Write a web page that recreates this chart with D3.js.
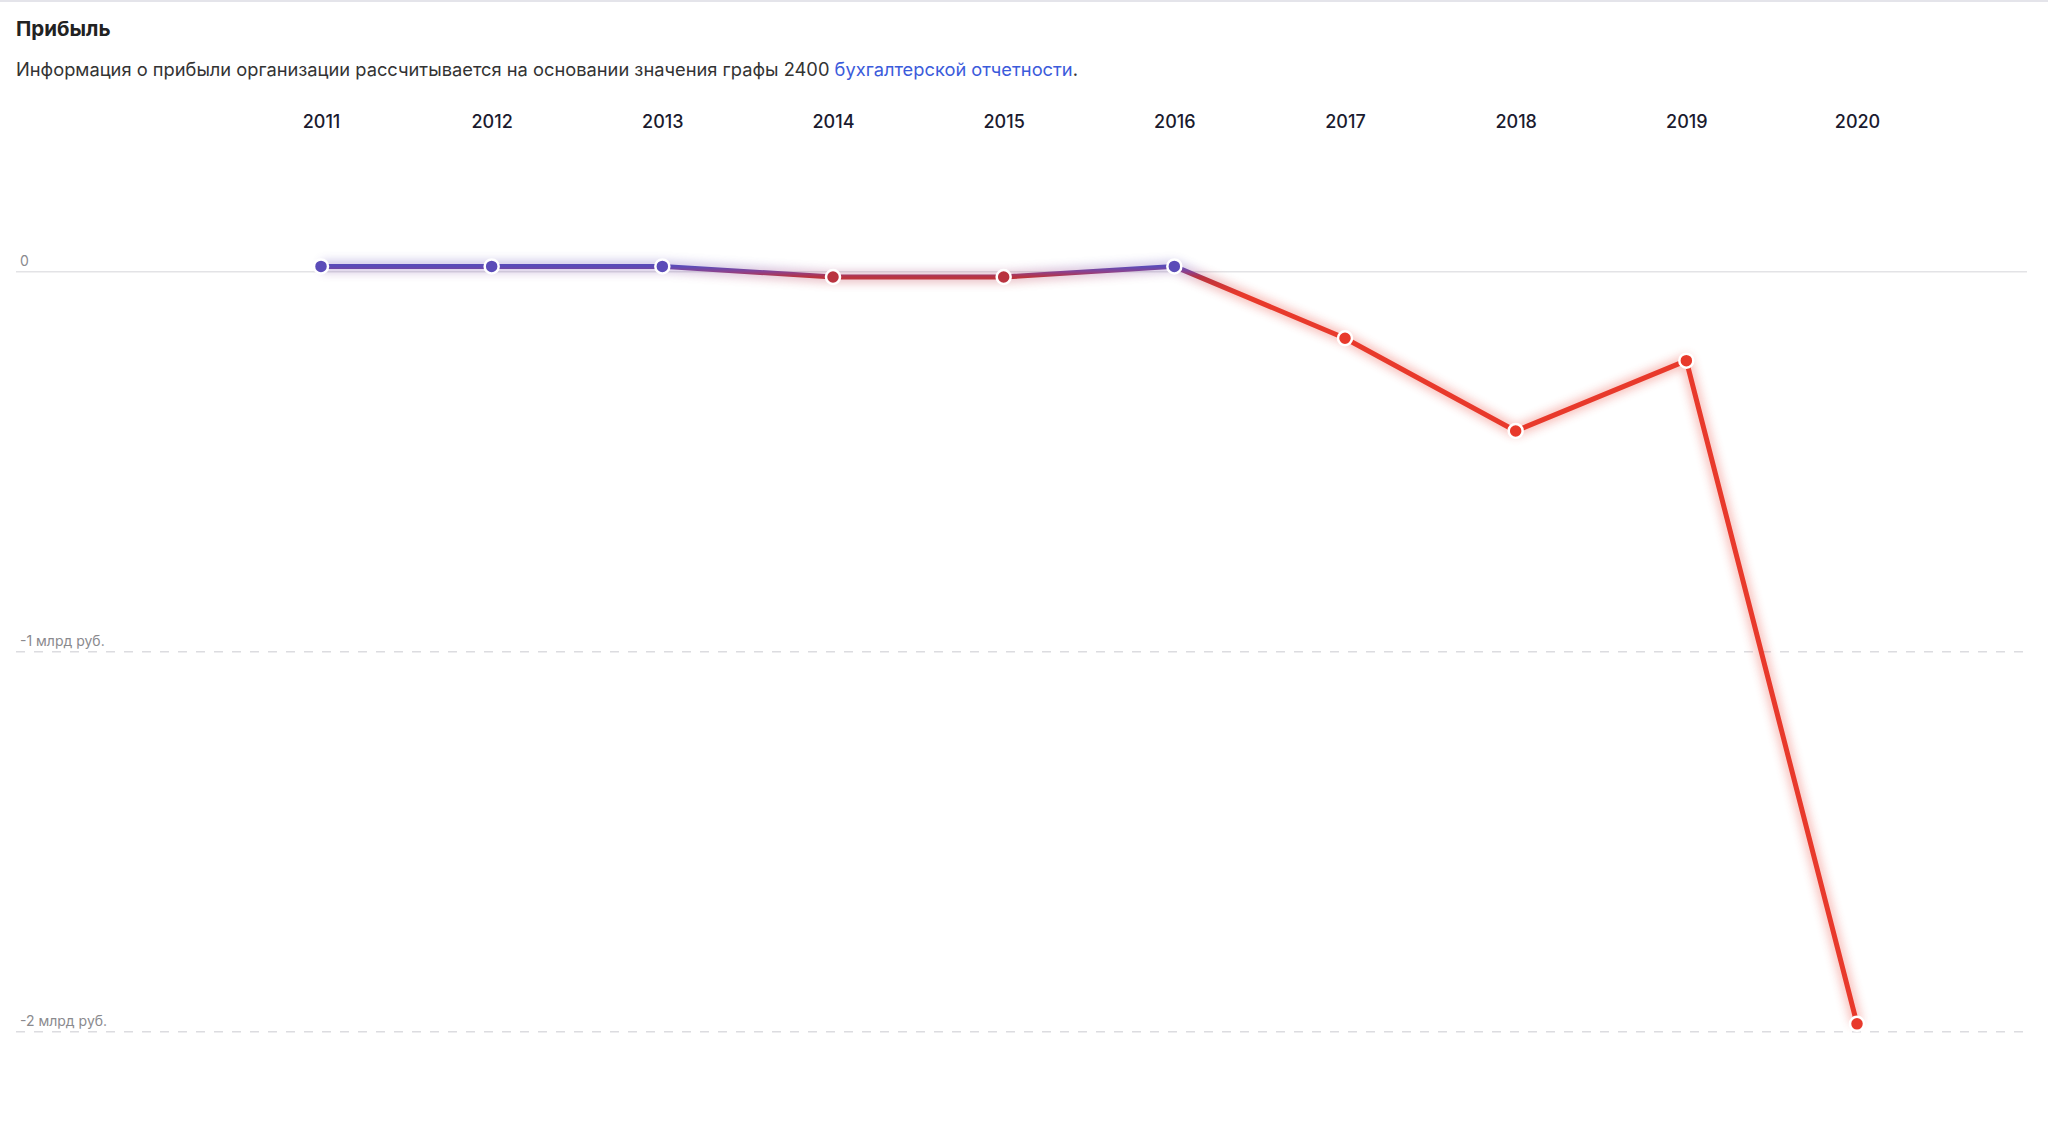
<!DOCTYPE html>
<html>
<head>
<meta charset="utf-8">
<script src="https://cdn.jsdelivr.net/npm/d3@7"></script>
<style>
  html, body { margin: 0; padding: 0; background: #fff; }
  svg { display: block; }
</style>
</head>
<body>
<svg id="chart" width="2048" height="1122"></svg>
<script>
// ---- data ----
const years = ["2011","2012","2013","2014","2015","2016","2017","2018","2019","2020"];
const profit = [14, 14, 14, -14, -14, 14, -175, -419, -234, -1979]; // млн руб.
const tickValues = [0, -1000, -2000];
const tickLabels = ["0", "-1 млрд руб.", "-2 млрд руб."];
const titleText = "Прибыль";
const subtitleText = "Информация о прибыли организации рассчитывается на основании значения графы 2400 ";
const linkText = "бухгалтерской отчетности";

const W = 2048, H = 1122;
const svg = d3.select("#chart");
const FONT = "Inter, 'Noto Sans', sans-serif";

// top border
svg.append("rect").attr("x", 0).attr("y", 0).attr("width", W).attr("height", 2).attr("fill", "#e4e4ea");

// title
svg.append("text").attr("x", 16).attr("y", 36)
  .attr("font-family", FONT).attr("font-size", 20.5).attr("font-weight", 700)
  .attr("fill", "#222").text(titleText);

const sub = svg.append("text").attr("x", 16).attr("y", 76)
  .attr("font-family", FONT).attr("font-size", 18.3).attr("fill", "#333");
sub.append("tspan").text(subtitleText);
sub.append("tspan").attr("fill", "#3b5bdb").text(linkText);
sub.append("tspan").text(".");

// scales
const x = d3.scalePoint().domain(years).range([321, 1857]);
const y = d3.scaleLinear().domain([0, -2000]).range([271.7, 1031.8]);

// grid lines
const grid = svg.append("g");
tickValues.forEach((v, i) => {
  grid.append("line")
    .attr("x1", 16).attr("x2", 2027)
    .attr("y1", y(v)).attr("y2", y(v))
    .attr("stroke", v === 0 ? "#e3e3e6" : "#dcdce0")
    .attr("stroke-width", 1.5)
    .attr("stroke-dasharray", v === 0 ? null : "9,9");
  grid.append("text")
    .attr("x", 20).attr("y", y(v) - 6)
    .attr("font-family", FONT).attr("font-size", 14)
    .attr("fill", "#8a8a8e").text(tickLabels[i]);
});

// year axis labels (top)
const xAxis = d3.axisTop(x).tickSize(0).tickPadding(0);
const gx = svg.append("g").attr("transform", "translate(0,128)").call(xAxis);
gx.select(".domain").remove();
gx.selectAll("text")
  .attr("font-family", FONT).attr("font-size", 18).attr("font-weight", 500)
  .attr("fill", "#1b1b2f");

// color by value
const colorScale = d3.scaleLinear()
  .domain([14, 0, -14, -60])
  .range(["#5b4cb8", "#8a4290", "#b9333f", "#e8392b"])
  .clamp(true);

const defs = svg.append("defs");
const grad = defs.append("linearGradient")
  .attr("id", "lineGrad").attr("gradientUnits", "userSpaceOnUse")
  .attr("x1", 0).attr("x2", 0)
  .attr("y1", y(14)).attr("y2", y(-60));
[14, 0, -14, -60].forEach(v => {
  grad.append("stop")
    .attr("offset", (y(v) - y(14)) / (y(-60) - y(14)))
    .attr("stop-color", colorScale(v));
});

const blur = defs.append("filter").attr("id", "glow")
  .attr("x", 0).attr("y", 0).attr("width", W).attr("height", H)
  .attr("filterUnits", "userSpaceOnUse");
blur.append("feGaussianBlur").attr("stdDeviation", 5);

const pts = years.map((yr, i) => ({ yr, v: profit[i] }));
const line = d3.line().x(d => x(d.yr)).y(d => y(d.v));

// glow
svg.append("path").datum(pts)
  .attr("d", line)
  .attr("fill", "none")
  .attr("stroke", "url(#lineGrad)")
  .attr("stroke-width", 12)
  .attr("stroke-linejoin", "round")
  .attr("opacity", 0.3)
  .attr("filter", "url(#glow)");

// main line
svg.append("path").datum(pts)
  .attr("d", line)
  .attr("fill", "none")
  .attr("stroke", "url(#lineGrad)")
  .attr("stroke-width", 5)
  .attr("stroke-linejoin", "round");

// points
svg.append("g").selectAll("circle").data(pts).join("circle")
  .attr("cx", d => x(d.yr)).attr("cy", d => y(d.v))
  .attr("r", 7)
  .attr("fill", d => colorScale(d.v))
  .attr("stroke", "#fff").attr("stroke-width", 2.5);
</script>
</body>
</html>
